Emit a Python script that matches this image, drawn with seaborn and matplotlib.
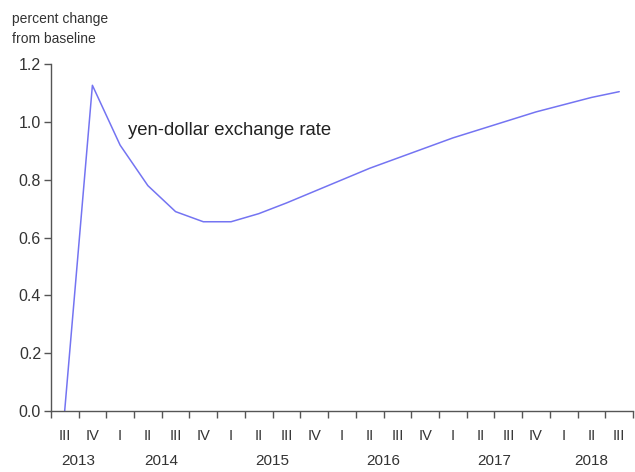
import matplotlib
matplotlib.use("Agg")
import matplotlib.pyplot as plt
import seaborn as sns
import numpy as np
import pandas as pd

# quarterly path, 2013 Q3 .. 2018 Q3
quarters = ["III", "IV",
            "I", "II", "III", "IV",
            "I", "II", "III", "IV",
            "I", "II", "III", "IV",
            "I", "II", "III", "IV",
            "I", "II", "III"]
years = ["2013", "2014", "2015", "2016", "2017", "2018"]
year_quarter_counts = [2, 4, 4, 4, 4, 3]
yen_dollar = [0.0, 1.127, 0.92, 0.78, 0.69, 0.655,
              0.655, 0.683, 0.72, 0.76, 0.80,
              0.84, 0.875, 0.91, 0.945, 0.975,
              1.005, 1.035, 1.06, 1.085, 1.105]
y_ticks = [0.0, 0.2, 0.4, 0.6, 0.8, 1.0, 1.2]

sns.set_style("ticks")
plt.rcParams['font.family'] = ['Liberation Sans', 'DejaVu Sans']

df = pd.DataFrame({"t": np.arange(len(quarters)), "pct": yen_dollar})

fig = plt.figure(figsize=(6.35, 4.72), dpi=100)
ax = fig.add_axes([0.080, 0.129, 0.917, 0.735])

sns.lineplot(data=df, x="t", y="pct", ax=ax, color="#7474f2", linewidth=1.1)

n = len(quarters)
ax.set_xlim(-0.5, n - 0.5)
ax.set_ylim(0, 1.2)

# spines
for side in ["top", "right"]:
    ax.spines[side].set_visible(False)
for side in ["left", "bottom"]:
    ax.spines[side].set_color("#555555")
    ax.spines[side].set_linewidth(1.0)

# y axis
ax.set_yticks(y_ticks)
ax.set_yticklabels([f"{v:.1f}" for v in y_ticks])
ax.tick_params(axis="y", length=5, width=1, color="#555555",
               labelsize=11.5, labelcolor="#333333", pad=2)

# x axis: tick marks at quarter boundaries, numerals in between
ax.set_xticks(np.arange(n + 1) - 0.5)
ax.set_xticklabels([])
ax.tick_params(axis="x", which="major", length=5, width=1, color="#555555")
ax.set_xticks(np.arange(n), minor=True)
ax.set_xticklabels(quarters, minor=True)
ax.tick_params(axis="x", which="minor", length=0, labelsize=10.5,
               labelcolor="#333333", pad=13)

trans = ax.get_xaxis_transform()
start = 0
for yr, cnt in zip(years, year_quarter_counts):
    center = start + (cnt - 1) / 2
    ax.text(center, -0.145, yr, transform=trans, ha="center", va="center",
            fontsize=11, color="#333333")
    start += cnt

ax.set_xlabel("")
ax.set_ylabel("")

fig.text(0.019, 0.975, "percent change\nfrom baseline", ha="left", va="top",
         fontsize=10, color="#333333", linespacing=1.6)

ax.text(2.3, 0.97, "yen-dollar exchange rate", ha="left", va="center",
        fontsize=13.3, color="#222222")

fig.savefig("out.png", dpi=100)
